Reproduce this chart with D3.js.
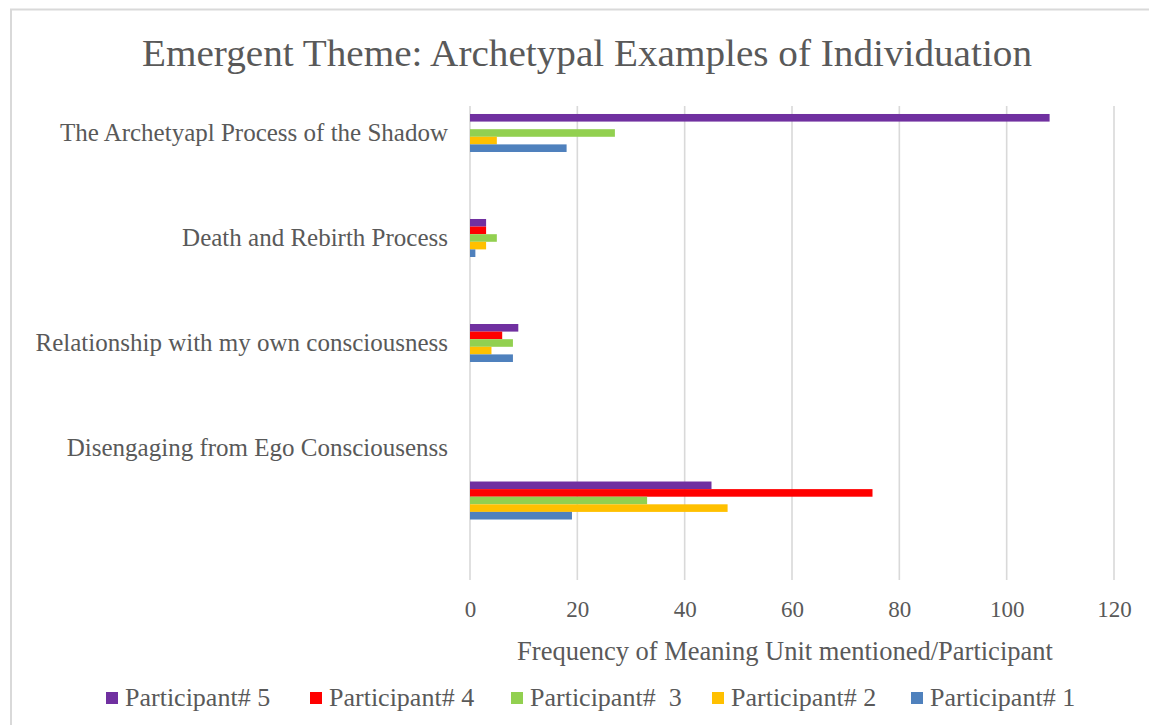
<!DOCTYPE html>
<html>
<head>
<meta charset="utf-8">
<script src="https://cdn.jsdelivr.net/npm/d3@7"></script>
<style>
  html, body { margin: 0; padding: 0; background: #fff; }
  svg { display: block; }
  text { white-space: pre; }
</style>
</head>
<body>
<svg id="chart" width="1149" height="725"></svg>
<script>
// ---- data ----
const categories = [
  "The Archetyapl Process of the Shadow",
  "Death and Rebirth Process",
  "Relationship with my own consciousness",
  "Disengaging from Ego Consciousenss"
];
// row slot in which each category's bar group is drawn (last group sits lower in the original)
const barRowSlots = [0, 1, 2, 3.5];
const series = ["Participant# 5", "Participant# 4", "Participant#  3", "Participant# 2", "Participant# 1"];
const participant5 = [108, 3, 9, 45];
const participant4 = [0, 3, 6, 75];
const participant3 = [27, 5, 8, 33];
const participant2 = [5, 3, 4, 48];
const participant1 = [18, 1, 8, 19];
const seriesValues = [participant5, participant4, participant3, participant2, participant1];
const colors = ["#7030a0", "#ff0000", "#92d050", "#ffc000", "#4f81bd"];
const xTicks = [0, 20, 40, 60, 80, 100, 120];
const titleText = "Emergent Theme: Archetypal Examples of Individuation";
const xAxisTitle = "Frequency of Meaning Unit mentioned/Participant";

// ---- layout ----
const svg = d3.select("#chart");
const W = 1149, H = 725;
const plot = { left: 470, right: 1114, top: 106, bottom: 580 };
const textColor = "#595959";
const serif = "'Liberation Serif', 'DejaVu Serif', serif";

// chart frame (cropped: only top & left edges visible)
svg.append("line").attr("x1", 10).attr("x2", W).attr("y1", 9.5).attr("y2", 9.5)
  .attr("stroke", "#d9d9d9").attr("stroke-width", 2);
svg.append("line").attr("x1", 11).attr("x2", 11).attr("y1", 9).attr("y2", H)
  .attr("stroke", "#d9d9d9").attr("stroke-width", 2);

const x = d3.scaleLinear().domain([0, 120]).range([plot.left, plot.right]);
const ySlot = d3.scaleLinear().domain([-0.257, 4.257]).range([plot.top, plot.bottom]);
const inner = d3.scaleBand().domain(series).range([-19, 19]).padding(0);

// gridlines
svg.append("g").selectAll("line").data(xTicks).join("line")
  .attr("x1", d => x(d)).attr("x2", d => x(d))
  .attr("y1", plot.top).attr("y2", plot.bottom)
  .attr("stroke", "#d9d9d9").attr("stroke-width", 1.6);

// x axis tick labels
const xAxis = d3.axisBottom(x).tickValues(xTicks).tickSize(0).tickPadding(0);
const gx = svg.append("g").attr("transform", `translate(0, ${plot.bottom + 37})`).call(xAxis);
gx.select(".domain").remove();
gx.selectAll("text").attr("dy", 0).attr("y", 0)
  .attr("fill", textColor).style("font-family", serif).style("font-size", "23px");

// category labels
svg.append("g").selectAll("text").data(categories).join("text")
  .attr("x", 448).attr("y", (d, i) => ySlot(i))
  .attr("dy", "0.33em")
  .attr("text-anchor", "end")
  .attr("fill", textColor)
  .style("font-family", serif).style("font-size", "25px")
  .text(d => d);

// bars
const barData = [];
categories.forEach((c, ci) => {
  series.forEach((s, si) => {
    barData.push({ cat: ci, series: s, si, value: seriesValues[si][ci] });
  });
});
svg.append("g").selectAll("rect").data(barData.filter(d => d.value > 0)).join("rect")
  .attr("x", x(0))
  .attr("y", d => ySlot(barRowSlots[d.cat]) + inner(d.series))
  .attr("width", d => x(d.value) - x(0))
  .attr("height", inner.bandwidth())
  .attr("fill", d => colors[d.si]);

// title
svg.append("text").attr("x", 587).attr("y", 66).attr("text-anchor", "middle")
  .attr("fill", textColor).style("font-family", serif).style("font-size", "38px")
  .attr("textLength", 890).attr("lengthAdjust", "spacingAndGlyphs")
  .text(titleText);

// axis title
svg.append("text").attr("x", 785).attr("y", 660).attr("text-anchor", "middle")
  .attr("fill", textColor).style("font-family", serif).style("font-size", "26.5px")
  .text(xAxisTitle);

// legend
const legendX = [106, 310, 511, 712, 911];
const lg = svg.append("g").selectAll("g").data(series).join("g")
  .attr("transform", (d, i) => `translate(${legendX[i]}, 692)`);
lg.append("rect").attr("width", 12).attr("height", 12).attr("fill", (d, i) => colors[i]);
lg.append("text").attr("x", 19).attr("y", 14)
  .attr("fill", textColor).style("font-family", serif).style("font-size", "26px")
  .text(d => d);
</script>
</body>
</html>
